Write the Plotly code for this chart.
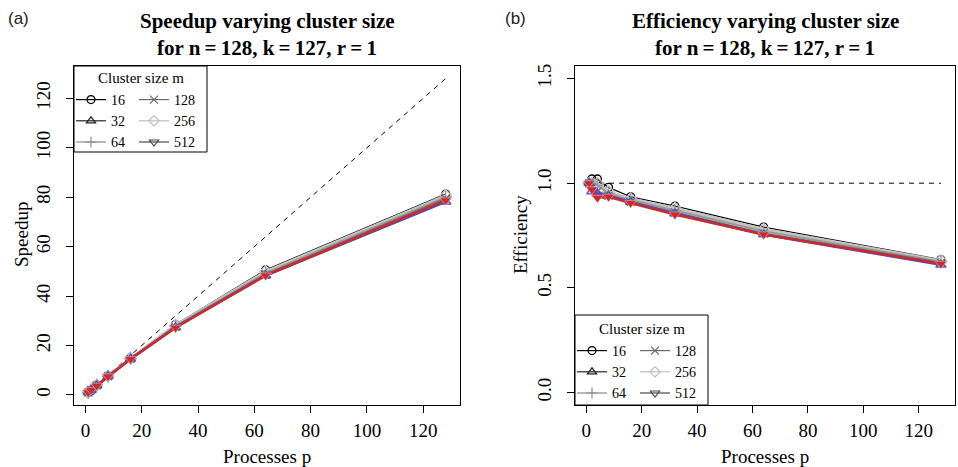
import plotly.graph_objects as go

# ---------------- data ----------------
processes = [1, 2, 4, 8, 16, 32, 64, 128]
cluster_sizes = ["16", "32", "64", "128", "256", "512"]

speedup = {
    "16":  [1.00, 2.04, 4.08, 7.84, 14.96, 28.48, 50.56, 81.28],
    "32":  [1.00, 1.92, 3.80, 7.52, 14.56, 27.36, 48.32, 78.08],
    "64":  [1.00, 1.98, 3.96, 7.60, 14.72, 27.84, 49.28, 80.00],
    "128": [1.00, 1.96, 3.84, 7.52, 14.56, 27.52, 48.64, 79.36],
    "256": [1.00, 2.00, 4.00, 7.68, 14.80, 28.16, 49.92, 80.64],
    "512": [1.00, 1.94, 3.72, 7.48, 14.48, 27.20, 48.32, 78.72],
}
efficiency = {
    "16":  [1.00, 1.02, 1.02, 0.98, 0.935, 0.89, 0.79, 0.635],
    "32":  [1.00, 0.96, 0.95, 0.94, 0.910, 0.855, 0.755, 0.610],
    "64":  [1.00, 0.99, 0.99, 0.95, 0.920, 0.870, 0.770, 0.625],
    "128": [1.00, 0.98, 0.96, 0.94, 0.910, 0.860, 0.760, 0.620],
    "256": [1.00, 1.00, 1.00, 0.96, 0.925, 0.880, 0.780, 0.630],
    "512": [1.00, 0.97, 0.93, 0.935, 0.905, 0.850, 0.755, 0.615],
}
ideal_p = [1, 128]
ideal_speedup = [1, 128]
ideal_eff = [1, 1]

x_ticks = [0, 20, 40, 60, 80, 100, 120]
speedup_ticks = [0, 20, 40, 60, 80, 100, 120]
eff_ticks = [0.0, 0.5, 1.0, 1.5]
eff_tick_labels = ["0.0", "0.5", "1.0", "1.5"]

# ---------------- styles ----------------
W, H = 958, 467
SERIF = "Liberation Serif"
SANS = "Liberation Sans"


def px(x):
    return x / W


def py(y):
    return 1 - y / H


plot_style = {
    "16":  dict(color="#000000", width=1.2, symbol="circle-open", size=8, mfill=None),
    "32":  dict(color="#4a4ad0", width=2.5, symbol="triangle-up-open", size=9, mfill=None),
    "64":  dict(color="#9a9a9a", width=2.0, symbol="cross-thin-open", size=9, mfill=None),
    "128": dict(color="#6e6e6e", width=2.0, symbol="x-thin-open", size=8, mfill=None),
    "256": dict(color="#c4c4c4", width=3.0, symbol="diamond-open", size=9, mfill=None),
    "512": dict(color="#cc2a2a", width=2.5, symbol="triangle-down", size=10, mfill="#cc2a2a"),
}
legend_style = {
    "16":  dict(color="#000000", symbol="circle-open"),
    "32":  dict(color="#222222", symbol="triangle-up-open"),
    "64":  dict(color="#8c8c8c", symbol="cross-thin-open"),
    "128": dict(color="#6a6a6a", symbol="x-thin-open"),
    "256": dict(color="#bdbdbd", symbol="diamond-open"),
    "512": dict(color="#4a4a4a", symbol="triangle-down-open"),
}
draw_order = ["16", "256", "64", "128", "32", "512"]

fig = go.Figure()

# ideal lines
fig.add_trace(go.Scatter(x=ideal_p, y=ideal_speedup, mode="lines",
                         line=dict(color="black", width=1, dash="5px,5px"),
                         showlegend=False, hoverinfo="skip", xaxis="x", yaxis="y"))
fig.add_trace(go.Scatter(x=ideal_p, y=ideal_eff, mode="lines",
                         line=dict(color="black", width=1, dash="5px,5px"),
                         showlegend=False, hoverinfo="skip", xaxis="x2", yaxis="y2"))


def marker_for(st):
    if st["mfill"] is None:
        return dict(symbol=st["symbol"], size=st["size"], color=st["color"],
                    line=dict(color=st["color"], width=1.3))
    return dict(symbol=st["symbol"], size=st["size"], color=st["mfill"],
                line=dict(color="#e8b0b0", width=0.6))


for m in draw_order:
    st = plot_style[m]
    fig.add_trace(go.Scatter(x=processes, y=speedup[m], mode="lines+markers",
                             line=dict(color=st["color"], width=st["width"]),
                             marker=marker_for(st), showlegend=False,
                             name=m, xaxis="x", yaxis="y"))
    fig.add_trace(go.Scatter(x=processes, y=efficiency[m], mode="lines+markers",
                             line=dict(color=st["color"], width=st["width"]),
                             marker=marker_for(st), showlegend=False,
                             name=m, xaxis="x2", yaxis="y2"))

# legend entries (grayscale keys as in the reference)
legend_cols = {
    "legend": (["16", "32", "64"], "x", "y"),
    "legend2": (["128", "256", "512"], "x", "y"),
    "legend3": (["16", "32", "64"], "x2", "y2"),
    "legend4": (["128", "256", "512"], "x2", "y2"),
}
for lg, (ms, xa, ya) in legend_cols.items():
    for m in ms:
        ls = legend_style[m]
        fig.add_trace(go.Scatter(x=[None], y=[None], mode="lines+markers", name=m,
                                 line=dict(color=ls["color"], width=1.2),
                                 marker=dict(symbol=ls["symbol"], size=8, color=ls["color"],
                                             line=dict(color=ls["color"], width=1.2)),
                                 legend=lg, showlegend=True, xaxis=xa, yaxis=ya))

axis_common = dict(showline=True, mirror=True, linecolor="black", linewidth=1,
                   ticks="outside", ticklen=7, tickwidth=1, tickcolor="black",
                   showgrid=False, zeroline=False, automargin=False,
                   tickfont=dict(family=SERIF, size=19, color="black"))

LEFT = (74, 460)
RIGHT = (575, 955)
TOP, BOTTOM = 66, 405

fig.update_layout(
    width=W, height=H, margin=dict(l=0, r=0, t=0, b=0),
    paper_bgcolor="white", plot_bgcolor="white",
    xaxis=dict(domain=[px(LEFT[0]), px(LEFT[1])], range=[-4.08, 133.08],
               tickvals=x_ticks, anchor="y", ticklabelstandoff=1, **axis_common),
    yaxis=dict(domain=[py(BOTTOM), py(TOP)], range=[-4.08, 133.08],
               tickvals=speedup_ticks, tickangle=-90, anchor="x",
               ticklabelstandoff=8, **axis_common),
    xaxis2=dict(domain=[px(RIGHT[0]), px(RIGHT[1])], range=[-4.08, 133.08],
                tickvals=x_ticks, anchor="y2", ticklabelstandoff=1, **axis_common),
    yaxis2=dict(domain=[py(BOTTOM), py(TOP)], range=[-0.06, 1.56],
                tickvals=eff_ticks, ticktext=eff_tick_labels, tickangle=-90,
                anchor="x2", ticklabelstandoff=8, **axis_common),
    showlegend=True,
)

leg_common = dict(xanchor="left", yanchor="top", bgcolor="rgba(0,0,0,0)",
                  borderwidth=0, itemwidth=30, traceorder="normal",
                  font=dict(family=SERIF, size=14, color="black"))
fig.update_layout(
    legend=dict(x=px(71), y=py(84), **leg_common),
    legend2=dict(x=px(134), y=py(84), **leg_common),
    legend3=dict(x=px(572), y=py(335), **leg_common),
    legend4=dict(x=px(635), y=py(335), **leg_common),
)

# legend boxes
fig.add_shape(type="rect", xref="paper", yref="paper",
              x0=px(74), x1=px(207), y0=py(152), y1=py(66),
              line=dict(color="black", width=1), fillcolor="white", layer="below")
fig.add_shape(type="rect", xref="paper", yref="paper",
              x0=px(575), x1=px(708), y0=py(405), y1=py(315),
              line=dict(color="black", width=1), fillcolor="white", layer="below")

T = "\u2009=\u2009"
subtitle = f"<b>for n{T}128, k{T}127, r{T}1</b>"
annotations = [
    dict(text="(a)", x=px(6), y=py(19), xanchor="left", yanchor="middle",
         font=dict(family=SANS, size=17, color="#222")),
    dict(text="(b)", x=px(503), y=py(19), xanchor="left", yanchor="middle",
         font=dict(family=SANS, size=17, color="#222")),
    dict(text="<b>Speedup varying cluster size</b>", x=px(267), y=py(21),
         xanchor="center", yanchor="middle", font=dict(family=SERIF, size=21, color="black")),
    dict(text=subtitle, x=px(267), y=py(48),
         xanchor="center", yanchor="middle", font=dict(family=SERIF, size=21, color="black")),
    dict(text="<b>Efficiency varying cluster size</b>", x=px(765), y=py(21),
         xanchor="center", yanchor="middle", font=dict(family=SERIF, size=21, color="black")),
    dict(text=subtitle, x=px(765), y=py(48),
         xanchor="center", yanchor="middle", font=dict(family=SERIF, size=21, color="black")),
    dict(text="Processes p", x=px(267), y=py(456), xanchor="center", yanchor="middle",
         font=dict(family=SERIF, size=19, color="black")),
    dict(text="Processes p", x=px(765), y=py(456), xanchor="center", yanchor="middle",
         font=dict(family=SERIF, size=19, color="black")),
    dict(text="Speedup", x=px(21), y=py(235), xanchor="center", yanchor="middle",
         textangle=-90, font=dict(family=SERIF, size=19, color="black")),
    dict(text="Efficiency", x=px(520), y=py(235), xanchor="center", yanchor="middle",
         textangle=-90, font=dict(family=SERIF, size=19, color="black")),
    dict(text="Cluster size m", x=px(141), y=py(78), xanchor="center", yanchor="middle",
         font=dict(family=SERIF, size=15, color="black")),
    dict(text="Cluster size m", x=px(642), y=py(329), xanchor="center", yanchor="middle",
         font=dict(family=SERIF, size=15, color="black")),
]
for a in annotations:
    a.update(xref="paper", yref="paper", showarrow=False)
fig.update_layout(annotations=annotations)

fig.write_html("out.html", config={"displayModeBar": False},
               post_script="document.body.style.margin='0px';document.body.style.overflow='hidden';")
